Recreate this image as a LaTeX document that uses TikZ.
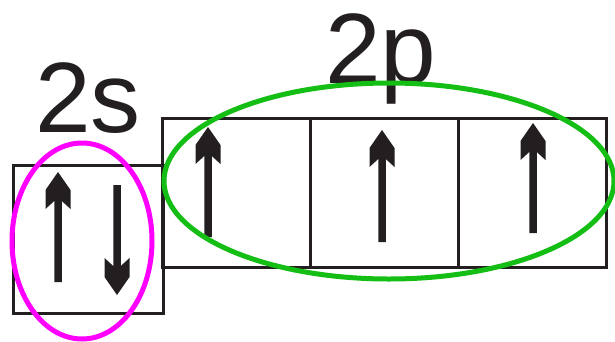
\documentclass[tikz,border=0pt]{standalone}
\usepackage{fontspec}
\setmainfont{Liberation Sans}
\usepackage{tikz}
\usetikzlibrary{positioning}
\definecolor{ink}{HTML}{231F20}
\definecolor{pairpink}{HTML}{FF00FF}
\definecolor{tripgreen}{HTML}{14BE14}

\begin{document}
\begin{tikzpicture}[
      x=1pt, y=-1pt,
      node distance=0pt,
      orb/.style={rectangle, draw=ink, line width=3pt, outer sep=0pt,
                  minimum width=148pt, minimum height=149pt},
      lvl/.style={anchor=base, text=ink, inner sep=0pt,
                  font=\fontsize{100}{100}\selectfont},
      spin len/.store in=\spinlen, spin len=110,
      spin/.pic={
        \fill[ink] (0,0) -- (-12.5,18) -- (-12.5,37) -- (-3.75,29)
          -- (-3.75,\spinlen) -- (3.75,\spinlen) -- (3.75,29)
          -- (12.5,37) -- (12.5,18) -- cycle;
      },
      shell/.style={line width=5pt}
    ]
    \useasboundingbox (0,0) rectangle (615,341);

    % 2s orbital
    \node[orb, minimum width=150pt, minimum height=148pt] (s) at (88,239) {};
    \node[lvl] (slab) at (88,132) {2s};

    % 2p orbitals
    \node[orb] (p1) at (236,192.5) {};
    \node[orb, right=of p1] (p2) {};
    \node[orb, right=of p2] (p3) {};
    \node[lvl] (plab) at (381,83) {2p};

    % electrons
    \pic[spin len=110] at (58,172) {spin};
    \pic[spin len=110, yscale=-1] at (117,295) {spin};
    \foreach \x/\t/\l in {208/127/110, 382/130/112, 533/123/110}
      \pic[spin len=\l] at (\x,\t) {spin};

    % groupings
    \draw[shell, pairpink] (82,241) ellipse [x radius=70, y radius=98];
    \draw[shell, tripgreen] (389,181) ellipse [x radius=225, y radius=98];
  \end{tikzpicture}
\end{document}
